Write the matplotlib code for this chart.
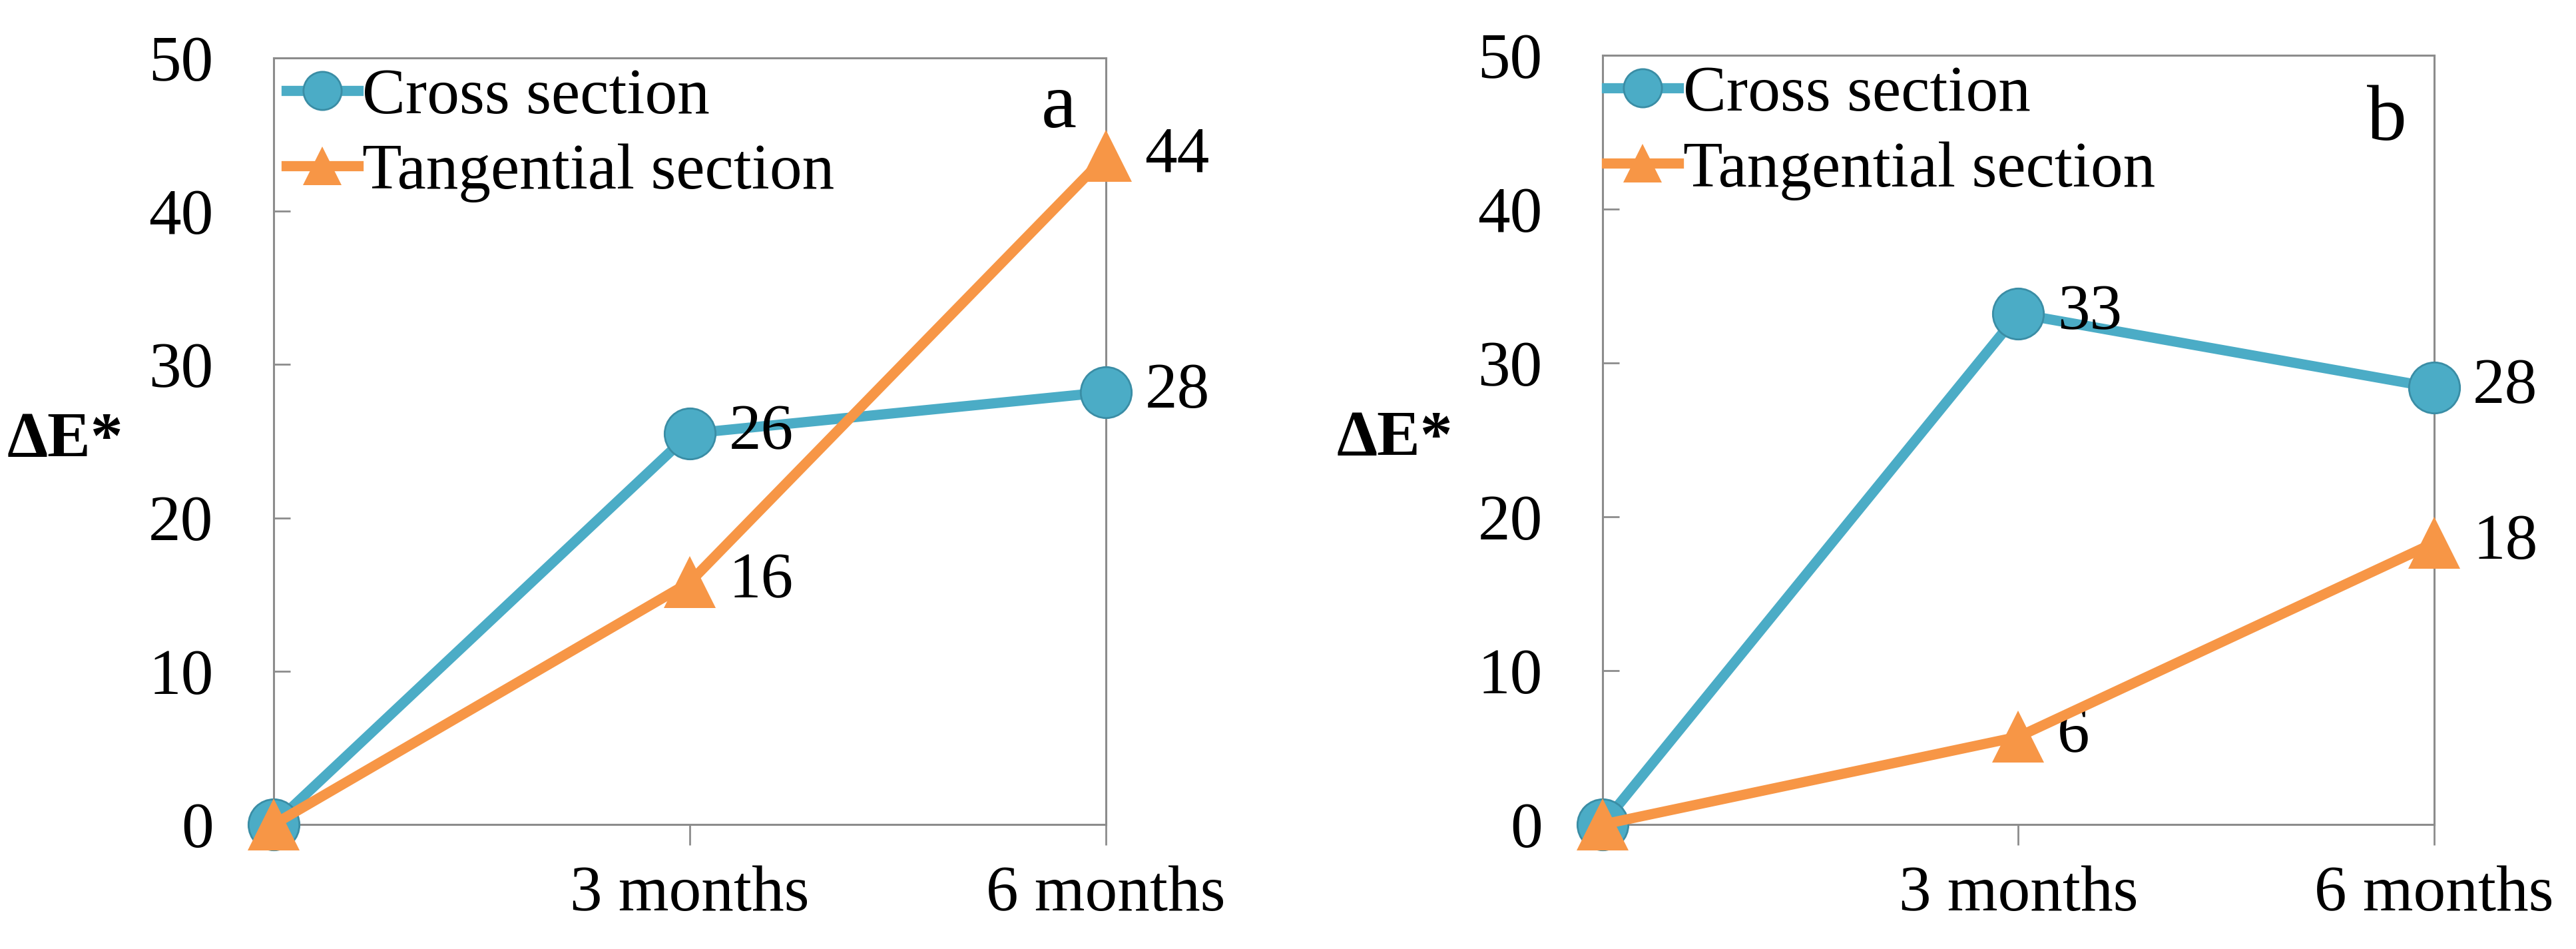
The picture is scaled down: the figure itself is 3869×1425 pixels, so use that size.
import matplotlib
matplotlib.use("Agg")
import matplotlib.pyplot as plt

""" Colour change (delta E*) of cross and tangential sections, panels a and b """

plt.rcParams['font.family'] = ['Liberation Serif', 'DejaVu Serif']

periods = ['', '3 months', '6 months']
x_pos = [0, 1, 2]

# panel a
a_cross = [0, 25.5, 28.2]
a_tangential = [0, 15.8, 43.6]
# panel b
b_cross = [0, 33.2, 28.4]
b_tangential = [0, 5.7, 18.3]

series_names = ['Cross section', 'Tangential section']
panel_letters = ['a', 'b']

blue = '#4BACC6'
blue_edge = '#3A8DA5'
orange = '#F79646'
frame = '#8C8C8C'
FS = 70


def draw_panel(ax, cross, tangential, letter, leg_x, letter_xy):
    ax.plot(x_pos, cross, color=blue, lw=11, marker='o', ms=55,
            mfc=blue, mec=blue_edge, mew=2, label=series_names[0],
            zorder=3, clip_on=False)
    ax.plot(x_pos, tangential, color=orange, lw=11, marker='^', ms=56,
            mfc=orange, mec=orange, mew=0, label=series_names[1],
            zorder=4, clip_on=False)
    # value labels next to the points (skip the zero start)
    for vals in (cross, tangential):
        for xi, v in zip(x_pos[1:], vals[1:]):
            ax.annotate(f'{v:.0f}', (xi, v), xytext=(42, 0),
                        textcoords='offset points', va='center', ha='left',
                        fontsize=FS, annotation_clip=False)
    ax.set_xlim(0, 2)
    ax.set_ylim(0, 50)
    ax.set_yticks(range(0, 51, 10))
    ax.set_xticks(x_pos)
    ax.set_xticklabels(periods)
    for s in ax.spines.values():
        s.set_color(frame)
        s.set_linewidth(2.2)
    ax.tick_params(axis='y', direction='in', length=18, width=2, color=frame,
                   pad=65, labelsize=FS)
    ax.tick_params(axis='x', direction='out', length=22, width=2, color=frame,
                   pad=22, labelsize=FS)
    ax.set_ylabel('ΔE*', rotation=0, fontsize=FS, fontweight='bold',
                  ha='center', va='center')
    ax.yaxis.set_label_coords(-0.25, 0.5)
    ax.text(letter_xy[0], letter_xy[1], letter, transform=ax.transAxes,
            ha='right', va='baseline', fontsize=86)
    ax.legend(loc='upper left', bbox_to_anchor=(leg_x, 0.987), frameon=False,
              fontsize=FS, borderpad=0, borderaxespad=0, handlelength=1.11,
              handletextpad=0.07, labelspacing=0.25, markerscale=0.75)


fig = plt.figure(figsize=(38.69, 14.25), dpi=100)
ax1 = fig.add_axes([0.1062, 0.1312, 0.3231, 0.8077])
ax2 = fig.add_axes([0.6221, 0.1312, 0.3228, 0.8105])

draw_panel(ax1, a_cross, a_tangential, panel_letters[0], 0.015, (0.965, 0.91))
draw_panel(ax2, b_cross, b_tangential, panel_letters[1], 0.005, (0.967, 0.89))

fig.savefig('out.png', dpi=100)
